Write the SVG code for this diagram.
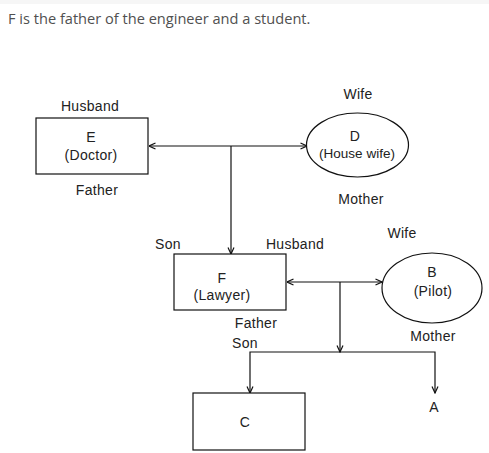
<svg xmlns="http://www.w3.org/2000/svg" width="489" height="453" viewBox="0 0 489 453">
<defs>
<style>
.t{font-family:"Liberation Sans",Arial,sans-serif;font-size:14px;letter-spacing:0.3px;fill:#222;text-anchor:middle}
.title{font-family:"Open Sans","Noto Sans",sans-serif;font-size:14.6px;fill:#505050}
.box{fill:#fff;stroke:#111;stroke-width:1.2}
.c{fill:none;stroke:#111;stroke-width:1.2}
</style>
<marker id="ah" viewBox="0 0 8 8" refX="7.5" refY="4" markerWidth="8" markerHeight="8" markerUnits="userSpaceOnUse" orient="auto-start-reverse">
<path d="M1,1 L7.5,4 L1,7" fill="none" stroke="#111" stroke-width="1.2"/>
</marker>
</defs>
<rect width="489" height="453" fill="#fff"/>
<rect width="489" height="4" fill="#f6f6f6"/>
<text class="title" x="8" y="24">F is the father of the engineer and a student.</text>
<g id="connectors">
<line class="c" x1="149" y1="146" x2="307" y2="146" marker-start="url(#ah)" marker-end="url(#ah)"/>
<line class="c" x1="231" y1="146" x2="231" y2="254" marker-end="url(#ah)"/>
<line class="c" x1="287" y1="282" x2="382" y2="282" marker-start="url(#ah)" marker-end="url(#ah)"/>
<line class="c" x1="340" y1="282" x2="340" y2="352" marker-end="url(#ah)"/>
<polyline class="c" points="250,393 250,352 435,352 435,393" marker-start="url(#ah)" marker-end="url(#ah)"/>
</g>
<g id="node-E">
<rect class="box" x="36" y="118" width="112" height="56"/>
<text class="t" x="90" y="111">Husband</text>
<text class="t" x="91" y="142">E</text>
<text class="t" x="91" y="160">(Doctor)</text>
<text class="t" x="97" y="195">Father</text>
</g>
<g id="node-D">
<ellipse class="box" cx="357.5" cy="145" rx="51" ry="32"/>
<text class="t" x="358" y="99">Wife</text>
<text class="t" x="355" y="141">D</text>
<text class="t" x="357" y="158" style="letter-spacing:0;font-size:13.5px">(House wife)</text>
<text class="t" x="361" y="204">Mother</text>
</g>
<g id="node-F">
<rect class="box" x="174" y="254" width="112" height="56"/>
<text class="t" x="168" y="249">Son</text>
<text class="t" x="295" y="249">Husband</text>
<text class="t" x="222" y="283">F</text>
<text class="t" x="222" y="300">(Lawyer)</text>
<text class="t" x="256" y="328">Father</text>
<text class="t" x="245" y="348">Son</text>
</g>
<g id="node-B">
<ellipse class="box" cx="432" cy="288" rx="50" ry="35"/>
<text class="t" x="402" y="238">Wife</text>
<text class="t" x="432" y="277">B</text>
<text class="t" x="433" y="296">(Pilot)</text>
<text class="t" x="433" y="341">Mother</text>
</g>
<g id="node-C">
<rect class="box" x="193" y="393" width="112" height="57"/>
<text class="t" x="245" y="427">C</text>
</g>
<g id="node-A">
<text class="t" x="434" y="412">A</text>
</g>
</svg>
